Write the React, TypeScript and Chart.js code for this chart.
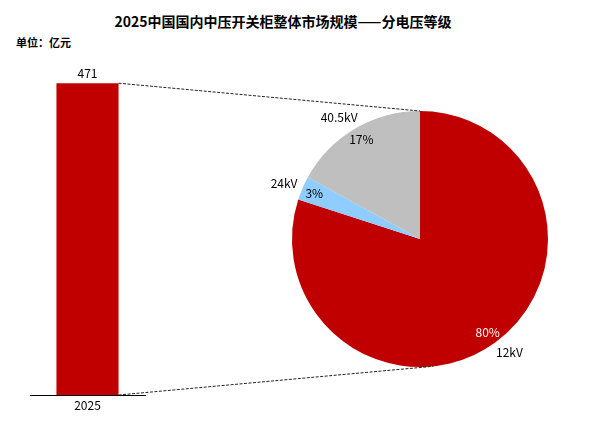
import React, { useEffect, useRef } from "react";
import { Chart, registerables } from "chart.js";

Chart.register(...registerables);

const years = ["2025"];
const marketSize = [471];
const voltageLevels = ["12kV", "24kV", "40.5kV"];
const voltageShares = [80, 3, 17];
const sliceColors = ["#C00000", "#8FCCFF", "#BFBFBF"];
const percentColors = ["#FFFFFF", "#000000", "#000000"];

const FONT = "'Noto Sans CJK SC', 'Noto Sans', sans-serif";
const CJK = "'Noto Sans CJK SC', 'Noto Sans', sans-serif";

export default function App() {
  const barRef = useRef<HTMLCanvasElement | null>(null);
  const pieRef = useRef<HTMLCanvasElement | null>(null);

  useEffect(() => {
    if (!barRef.current || !pieRef.current) return;

    const barValueLabel = {
      id: "barValueLabel",
      afterDatasetsDraw(chart: any) {
        const ctx = chart.ctx;
        const meta = chart.getDatasetMeta(0);
        ctx.save();
        ctx.fillStyle = "#000";
        ctx.font = `12px ${FONT}`;
        ctx.textAlign = "center";
        ctx.textBaseline = "middle";
        meta.data.forEach((el: any, i: number) => {
          ctx.fillText(String(marketSize[i]), el.x, el.y - 10);
        });
        ctx.restore();
      },
    };

    const barChart = new Chart(barRef.current, {
      type: "bar",
      data: {
        labels: years,
        datasets: [
          {
            data: marketSize,
            backgroundColor: "#C00000",
            categoryPercentage: 1,
            barPercentage: 0.54,
          },
        ],
      },
      options: {
        animation: false,
        responsive: false,
        maintainAspectRatio: false,
        layout: { padding: { left: 30, right: 470, top: 64, bottom: 13.6 } },
        plugins: { legend: { display: false }, tooltip: { enabled: false } },
        scales: {
          x: {
            grid: { display: false, drawTicks: false },
            border: { display: true, color: "#000", width: 1 },
            ticks: { color: "#000", font: { size: 12, family: FONT }, padding: 3 },
          },
          y: { display: false, min: 0, max: 500 },
        },
      },
      plugins: [barValueLabel],
    } as any);

    const pieDecor = {
      id: "pieDecor",
      afterDatasetsDraw(chart: any) {
        const ctx = chart.ctx;
        const meta = chart.getDatasetMeta(0);
        ctx.save();
        ctx.textAlign = "center";
        ctx.textBaseline = "middle";
        ctx.font = `12px ${FONT}`;
        meta.data.forEach((arc: any, i: number) => {
          const mid = (arc.startAngle + arc.endAngle) / 2;
          const r = arc.outerRadius;
          const c = Math.cos(mid);
          const s = Math.sin(mid);
          ctx.fillStyle = percentColors[i];
          ctx.fillText(`${voltageShares[i]}%`, arc.x + c * r * 0.9, arc.y + s * r * 0.9);
          ctx.fillStyle = "#000";
          const w = ctx.measureText(voltageLevels[i]).width;
          ctx.fillText(
            voltageLevels[i],
            arc.x + c * r * 1.1 + Math.sign(c) * w * 0.25,
            arc.y + s * r * 1.1
          );
        });

        // connector lines from bar to pie
        const bar: any = barChart.getDatasetMeta(0).data[0];
        const arc0: any = meta.data[0];
        if (bar && arc0) {
          const right = bar.x + bar.width / 2;
          const cx = arc0.x;
          const cy = arc0.y;
          const r = arc0.outerRadius;
          const a = (6 * Math.PI) / 180;
          ctx.strokeStyle = "#222";
          ctx.lineWidth = 1;
          ctx.setLineDash([3, 1.5]);
          ctx.beginPath();
          ctx.moveTo(right, bar.y);
          ctx.lineTo(cx, cy - r);
          ctx.moveTo(right, bar.base);
          ctx.lineTo(cx + r * Math.sin(a), cy + r * Math.cos(a));
          ctx.stroke();
        }
        ctx.restore();
      },
    };

    const pieChart = new Chart(pieRef.current, {
      type: "pie",
      data: {
        labels: voltageLevels,
        datasets: [
          {
            data: voltageShares,
            backgroundColor: sliceColors,
            borderWidth: 0,
          },
        ],
      },
      options: {
        animation: false,
        responsive: false,
        maintainAspectRatio: false,
        layout: { padding: { left: 292, right: 67, top: 111, bottom: 62 } },
        plugins: { legend: { display: false }, tooltip: { enabled: false } },
      },
      plugins: [pieDecor],
    } as any);

    return () => {
      pieChart.destroy();
      barChart.destroy();
    };
  }, []);

  return (
    <div
      style={{
        position: "absolute",
        left: 0,
        top: 0,
        width: 615,
        height: 429,
        background: "#fff",
        overflow: "hidden",
      }}
    >
      <div
        style={{
          position: "absolute",
          left: 0,
          top: 11,
          width: 566,
          textAlign: "center",
          fontFamily: CJK,
          fontWeight: "bold",
          fontSize: 14,
          lineHeight: "20px",
          color: "#000",
          whiteSpace: "nowrap",
        }}
      >
        2025中国国内中压开关柜整体市场规模——分电压等级
      </div>
      <div
        style={{
          position: "absolute",
          left: 16,
          top: 35,
          fontFamily: CJK,
          fontWeight: "bold",
          fontSize: 11,
          lineHeight: "14px",
          color: "#000",
          whiteSpace: "nowrap",
        }}
      >
        单位：亿元
      </div>
      <canvas
        ref={barRef}
        width={615}
        height={429}
        style={{ position: "absolute", left: 0, top: 0, width: 615, height: 429 }}
      />
      <canvas
        ref={pieRef}
        width={615}
        height={429}
        style={{ position: "absolute", left: 0, top: 0, width: 615, height: 429 }}
      />
    </div>
  );
}
